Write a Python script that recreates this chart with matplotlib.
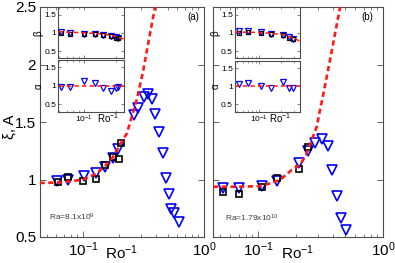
import matplotlib
matplotlib.use('Agg')
import matplotlib.pyplot as plt
import numpy as np
from matplotlib.ticker import LogLocator, FuncFormatter, NullFormatter, FixedLocator

plt.rcParams['font.family'] = ['Liberation Sans', 'DejaVu Sans']
plt.rcParams['mathtext.fontset'] = 'custom'
plt.rcParams['mathtext.rm'] = 'Liberation Sans'
plt.rcParams['mathtext.it'] = 'Liberation Sans:italic'
plt.rcParams['mathtext.default'] = 'regular'

# ---------------- data: panel (a) ----------------
a_sq_x = [0.062, 0.075, 0.100, 0.128, 0.152, 0.177, 0.197, 0.207]
a_sq_y = [0.978, 1.025, 0.987, 1.007, 1.129, 1.193, 1.178, 1.315]
a_tri_x = [0.061, 0.075, 0.101, 0.129, 0.153, 0.177, 0.194, 0.264, 0.286, 0.318,
           0.343, 0.374, 0.396, 0.425, 0.454, 0.485, 0.514, 0.534, 0.565, 0.625]
a_tri_y = [0.987, 0.996, 1.030, 1.059, 1.109, 1.187, 1.263, 1.561, 1.619, 1.720,
           1.743, 1.700, 1.570, 1.416, 1.230, 1.016, 0.871, 0.743, 0.706, 0.628]
a_fit_x = [0.0437, 0.0621, 0.0781, 0.100, 0.128, 0.152, 0.177, 0.206, 0.231, 0.254,
           0.279, 0.313, 0.345, 0.394, 0.42]
a_fit_y = [0.970, 0.974, 0.983, 1.000, 1.048, 1.117, 1.196, 1.317, 1.404, 1.552,
           1.700, 1.935, 2.178, 2.500, 2.66]
# inset (a)
ia_x = [0.062, 0.075, 0.100, 0.128, 0.152, 0.177, 0.197, 0.207]
ia_beta_sq = [1.00, 0.97, 0.97, 0.97, 0.935, 0.90, 0.865, 0.865]
ia_beta_tri = [1.02, 1.00, 0.98, 0.98, 0.95, 0.91, 0.88, 0.87]
ia_alpha_tri = [0.97, 0.97, 1.13, 1.09, 0.93, 0.86, 0.93, 0.97]
ia_beta_fit_x = [0.059, 0.10, 0.15, 0.20, 0.235]
ia_beta_fit_y = [1.03, 1.00, 0.97, 0.90, 0.82]
ia_alpha_fit_x = [0.059, 0.235]
ia_alpha_fit_y = [1.0, 1.0]

# ---------------- data: panel (b) ----------------
b_sq_x = [0.0527, 0.0709, 0.107, 0.143, 0.214, 0.252]
b_sq_y = [0.894, 0.874, 0.937, 1.016, 1.089, 1.280]
b_tri_x = [0.0527, 0.0709, 0.107, 0.143, 0.214, 0.252, 0.286, 0.324, 0.362, 0.393,
           0.429, 0.464, 0.503]
b_tri_y = [0.923, 0.923, 0.943, 0.990, 1.146, 1.250, 1.320, 1.350, 1.291, 1.080,
           0.857, 0.668, 0.563]
b_fit_x = [0.0437, 0.0695, 0.107, 0.150, 0.186, 0.217, 0.242, 0.269, 0.295, 0.313,
           0.333, 0.355, 0.400, 0.453, 0.48]
b_fit_y = [0.937, 0.937, 0.943, 0.996, 1.083, 1.126, 1.213, 1.343, 1.459, 1.600,
           1.740, 1.894, 2.184, 2.497, 2.65]
# inset (b)
ib_x = [0.0527, 0.0709, 0.107, 0.143, 0.214, 0.252, 0.286]
ib_beta_sq = [1.00, 1.02, 1.00, 0.97, 0.93, 0.87, 0.84]
ib_beta_tri = [1.045, 1.06, 1.02, 0.955, 0.94, 0.88, 0.84]
ib_alpha_tri = [1.065, 1.09, 1.00, 0.946, 1.11, 0.955, 0.955]
ib_beta_fit_x = [0.047, 0.10, 0.20, 0.30, 0.36]
ib_beta_fit_y = [1.02, 1.01, 0.96, 0.85, 0.77]
ib_alpha_fit_x = [0.047, 0.36]
ib_alpha_fit_y = [1.0, 1.0]

main_yticks = [0.5, 1, 1.5, 2, 2.5]
main_yticklabels = ['0.5', '1', '1.5', '2', '2.5']
inset_yticks = [0.5, 1, 1.5]
inset_yticklabels = ['0.5', '1', '1.5']

W, H = 395, 263
fig = plt.figure(figsize=(W / 100, H / 100), dpi=100)

def fr(x0, y0, x1, y1):
    return [x0 / W, 1 - y1 / H, (x1 - x0) / W, (y1 - y0) / H]

logfmt = FuncFormatter(lambda v, p: r'$10^{%d}$' % int(round(np.log10(v))))
SPC = '0.3'
RED = '#ff1a1a'
DASH = (2.0, 1.3)

def setup_main(ax, ylabels=True):
    ax.set_xscale('log')
    ax.set_xlim(0.0437, 1)
    ax.set_ylim(0.5, 2.5)
    ax.xaxis.set_major_locator(FixedLocator([0.1, 1]))
    ax.xaxis.set_major_formatter(logfmt)
    ax.xaxis.set_minor_locator(LogLocator(base=10, subs=np.arange(2, 10)))
    ax.xaxis.set_minor_formatter(NullFormatter())
    ax.set_yticks(main_yticks)
    if ylabels:
        ax.set_yticklabels(main_yticklabels)
    else:
        ax.set_yticklabels([])
    ax.tick_params(which='both', direction='in', top=True, right=True,
                   color=SPC, labelcolor='black')
    ax.tick_params(which='major', length=4.5, width=0.6, labelsize=11, pad=2.5)
    ax.tick_params(which='minor', length=2.5, width=0.5)
    for s in ax.spines.values():
        s.set_color(SPC)
        s.set_linewidth(0.8)
    ax.set_xlabel(r'$Ro^{-1}$', fontsize=11)
    ax.xaxis.set_label_coords(0.5, -0.028)

def setup_inset(ax, xlim, show_x):
    ax.set_xscale('log')
    ax.set_xlim(*xlim)
    ax.set_ylim(0.3, 1.7)
    ax.xaxis.set_major_locator(FixedLocator([0.1]))
    ax.xaxis.set_minor_locator(LogLocator(base=10, subs=np.arange(2, 10)))
    ax.xaxis.set_minor_formatter(NullFormatter())
    if show_x:
        ax.xaxis.set_major_formatter(logfmt)
    else:
        ax.xaxis.set_major_formatter(NullFormatter())
    ax.set_yticks(inset_yticks)
    ax.set_yticklabels(inset_yticklabels)
    ax.tick_params(which='both', direction='in', top=True, right=True,
                   color=SPC, labelcolor='black')
    ax.tick_params(which='major', length=2.5, width=0.5, labelsize=6, pad=1.5)
    ax.tick_params(which='minor', length=1.5, width=0.4)
    for s in ax.spines.values():
        s.set_color(SPC)
        s.set_linewidth(0.8)

# ---------------- main panels ----------------
axa = fig.add_axes(fr(39.5, 7, 204, 237))
axb = fig.add_axes(fr(213, 7, 383, 237))

for ax, sx, sy, tx, ty, fx, fy in [
        (axa, a_sq_x, a_sq_y, a_tri_x, a_tri_y, a_fit_x, a_fit_y),
        (axb, b_sq_x, b_sq_y, b_tri_x, b_tri_y, b_fit_x, b_fit_y)]:
    ax.plot(tx, ty, linestyle='none', marker='v', ms=6.5, mfc='none',
            mec='blue', mew=1.2, zorder=3)
    ax.plot(sx, sy, linestyle='none', marker='s', ms=4.8, mfc='none',
            mec='black', mew=1.2, zorder=3)
    ax.plot(fx, fy, color=RED, lw=1.9, dashes=DASH, zorder=4)

setup_main(axa, True)
setup_main(axb, False)
axa.set_ylabel('ξ, A', fontsize=11)
axa.yaxis.set_label_coords(-0.14, 0.48)
axa.text(0.935, 0.955, '(a)', transform=axa.transAxes, fontsize=7,
         ha='center', va='center')
axb.text(0.905, 0.955, '(b)', transform=axb.transAxes, fontsize=7,
         ha='center', va='center')
axa.text(0.06, 0.085, r'Ra=8.1x10$^{9}$', transform=axa.transAxes, fontsize=6,
         color='0.25', ha='left', va='center')
axb.text(0.07, 0.08, r'Ra=1.79x10$^{10}$', transform=axb.transAxes, fontsize=6,
         color='0.25', ha='left', va='center')

# ---------------- insets ----------------
def draw_inset(rect_up, rect_lo, xlim, x, bsq, btri, atri, bfx, bfy, afx, afy, xl_pos):
    au = fig.add_axes(rect_up)
    al = fig.add_axes(rect_lo)
    au.plot(x, btri, linestyle='none', marker='v', ms=3.8, mfc='none',
            mec='blue', mew=0.9, zorder=3)
    au.plot(x, bsq, linestyle='none', marker='s', ms=3.2, mfc='none',
            mec='black', mew=0.9, zorder=3)
    au.plot(bfx, bfy, color=RED, lw=1.1, dashes=(3, 2), zorder=4)
    al.plot(x, atri, linestyle='none', marker='v', ms=3.8, mfc='none',
            mec='blue', mew=0.9, zorder=3)
    al.plot(afx, afy, color=RED, lw=1.1, dashes=(3, 2), zorder=4)
    setup_inset(au, xlim, False)
    setup_inset(al, xlim, True)
    au.set_ylabel('β', fontsize=7, labelpad=0.5)
    al.set_ylabel('α', fontsize=7, labelpad=0.5)
    al.text(xl_pos, -0.13, r'$Ro^{-1}$', transform=al.transAxes, fontsize=7,
            ha='center', va='center')

draw_inset(fr(58.3, 7.3, 124, 58.3), fr(58.3, 60, 124, 111.7), (0.0587, 0.235),
           ia_x, ia_beta_sq, ia_beta_tri, ia_alpha_tri,
           ia_beta_fit_x, ia_beta_fit_y, ia_alpha_fit_x, ia_alpha_fit_y, 0.76)
draw_inset(fr(235, 7.3, 300, 58.3), fr(235, 61, 300, 111.7), (0.047, 0.36),
           ib_x, ib_beta_sq, ib_beta_tri, ib_alpha_tri,
           ib_beta_fit_x, ib_beta_fit_y, ib_alpha_fit_x, ib_alpha_fit_y, 0.69)

fig.savefig('out.png', dpi=100)
